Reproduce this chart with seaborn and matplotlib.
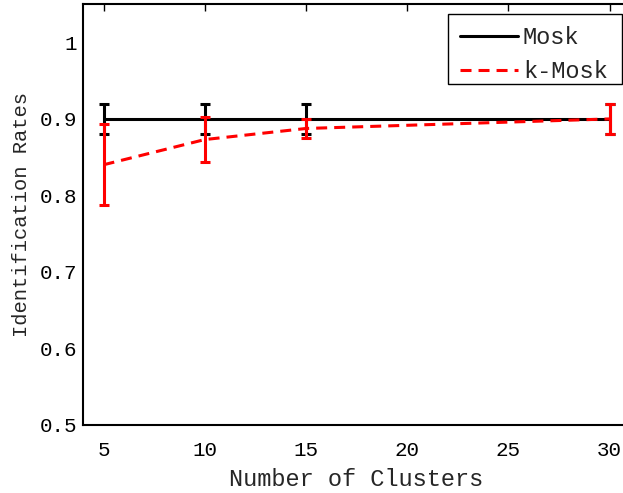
import matplotlib
matplotlib.use("Agg")
import matplotlib.pyplot as plt
from matplotlib.patches import Rectangle
import seaborn as sns
import pandas as pd

# data
clusters = [5, 10, 15, 30]
mosk_rate = [0.90, 0.90, 0.90, 0.90]
mosk_err = [0.02, 0.02, 0.02, 0.02]
kmosk_rate = [0.840, 0.873, 0.8875, 0.90]
kmosk_err = [0.053, 0.030, 0.0125, 0.02]
x_ticks = [5, 10, 15, 20, 25, 30]
y_ticks = [0.5, 0.6, 0.7, 0.8, 0.9, 1.0]
y_labels = ["0.5", "0.6", "0.7", "0.8", "0.9", "1"]

sns.set_style("white")
plt.rcParams['font.family'] = ['Liberation Mono', 'DejaVu Sans Mono']

df = pd.DataFrame({
    "clusters": clusters * 2,
    "rate": mosk_rate + kmosk_rate,
    "method": ["Mosk"] * len(clusters) + ["k-Mosk"] * len(clusters),
})

fig = plt.figure(figsize=(6.23, 4.93), dpi=100)
ax = fig.add_axes([0.1337, 0.1387, 1.011 - 0.1337, 0.9913 - 0.1387])

lw = 2.2
ax.errorbar(clusters, mosk_rate, yerr=mosk_err, fmt="none", ecolor="black",
            elinewidth=lw, capsize=3.6, capthick=lw, zorder=2)
sns.lineplot(data=df, x="clusters", y="rate", hue="method", style="method",
             palette={"Mosk": "black", "k-Mosk": "#ff0000"},
             dashes={"Mosk": "", "k-Mosk": (3.6, 2.3)},
             linewidth=lw, ax=ax, zorder=3)
ax.errorbar(clusters, kmosk_rate, yerr=kmosk_err, fmt="none", ecolor="#ff0000",
            elinewidth=lw, capsize=3.6, capthick=lw, zorder=4)

ax.set_xlim(4, 31)
ax.set_ylim(0.5, 1.05)
ax.set_xticks(x_ticks)
ax.set_yticks(y_ticks)
ax.set_yticklabels(y_labels)
ax.tick_params(direction="in", length=5, width=1, top=True, right=True,
               labelsize=15, colors="black")
ax.tick_params(axis="x", pad=11.6)
ax.tick_params(axis="y", pad=4.5)
for s in ax.spines.values():
    s.set_visible(True)
    s.set_color("black")
    s.set_linewidth(1.5)

ax.set_xlabel("Number of Clusters", fontsize=17, labelpad=6)
ax.set_ylabel("Identification Rates", fontsize=14.8, labelpad=6.5)

# legend box (MATLAB style frame), drawn separately so the padding matches
box_x0, box_y0, box_x1, box_y1 = 0.6678, 0.8097, 0.985, 0.9762
ax.add_patch(Rectangle((box_x0, box_y0), box_x1 - box_x0, box_y1 - box_y0,
                       transform=ax.transAxes, facecolor="white",
                       edgecolor="black", linewidth=1, zorder=5))
leg = ax.legend(loc="upper left", bbox_to_anchor=(box_x0, box_y1),
                borderaxespad=0, fontsize=17, frameon=False,
                handlelength=2.46, handletextpad=0.2, borderpad=0.5,
                labelspacing=0.48)
leg.set_zorder(6)

fig.savefig("out.png", dpi=100)
